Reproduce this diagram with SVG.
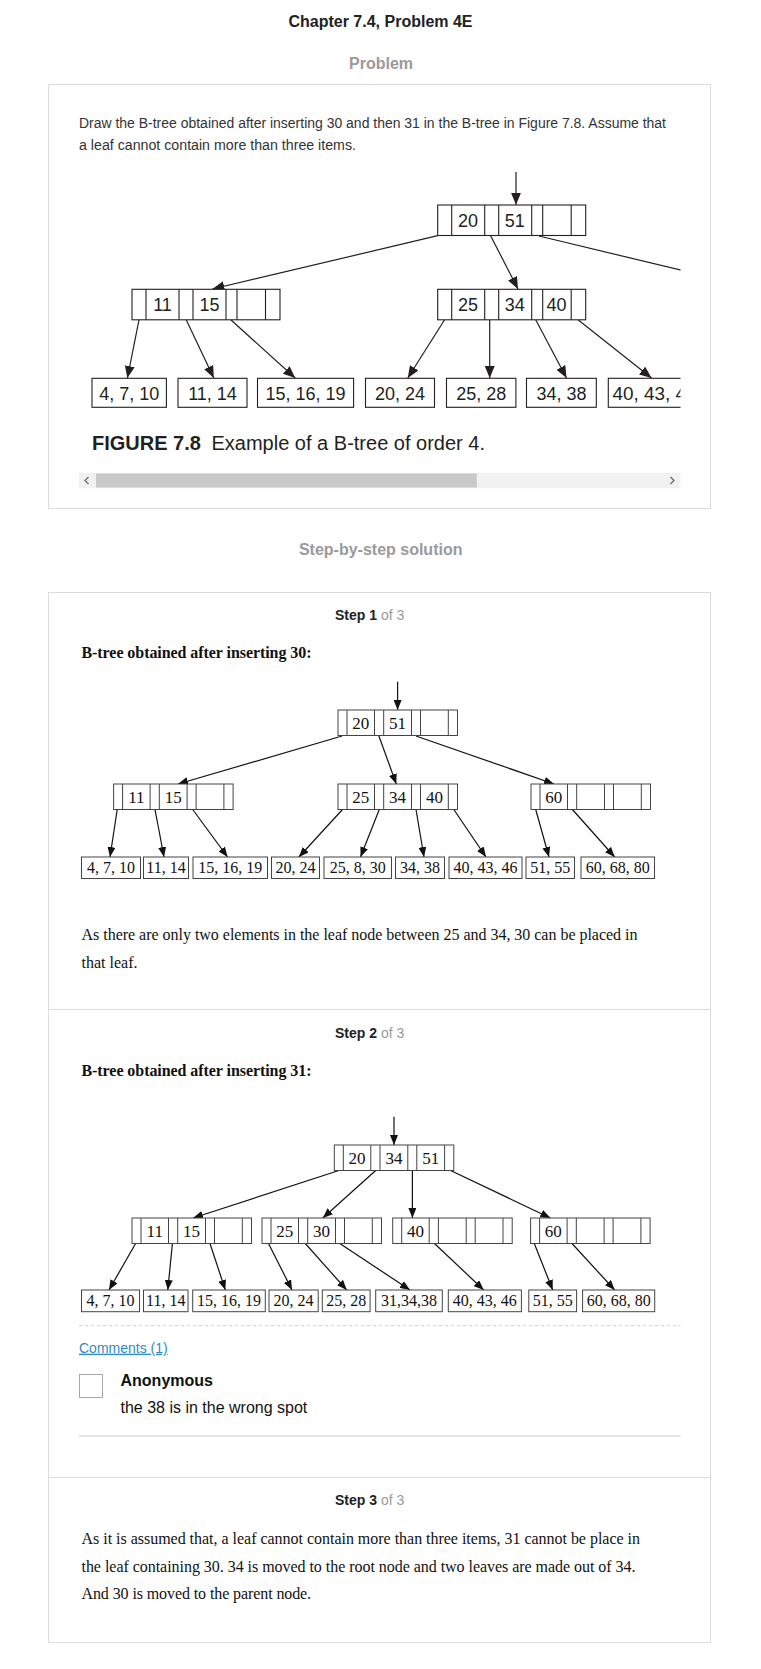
<svg xmlns="http://www.w3.org/2000/svg" xmlns:xlink="http://www.w3.org/1999/xlink" width="761" height="1669" viewBox="0 0 761 1669">
<style>
.sans{font-family:"Liberation Sans",Arial,sans-serif}
.serif{font-family:"Liberation Serif","Times New Roman",serif}
.h1{font-size:16px;font-weight:bold;fill:#222}
.h2{font-size:16px;font-weight:bold;fill:#9a9a9a}
.body{font-size:14px;fill:#333}
.step{font-size:14px;font-weight:bold;fill:#222}
.of{font-weight:normal;fill:#9a9a9a}
.sub{font-size:16px;font-weight:bold;fill:#111}
.txt{font-size:16px;fill:#111}
.fk{font-size:18px;fill:#231f20;text-anchor:middle}
.sk{font-size:17px;fill:#111;text-anchor:middle}
.lk{font-size:16px;fill:#111;text-anchor:middle}
.box{fill:#fff;stroke:#dcdcdc;stroke-width:1}
.fn{fill:#fff;stroke:#231f20;stroke-width:1.1}
.sn{fill:#fff;stroke:#444;stroke-width:1}
.fe{stroke:#231f20;stroke-width:1.2;fill:none}
.se{stroke:#111;stroke-width:1.2;fill:none}
</style>
<defs>
<marker id="fa" viewBox="0 0 12 10" refX="12" refY="5" markerWidth="12" markerHeight="10" markerUnits="userSpaceOnUse" orient="auto"><path d="M0,0 L12,5 L0,10 z" fill="#231f20"/></marker>
<marker id="sa" viewBox="0 0 10 8" refX="10" refY="4" markerWidth="10" markerHeight="8" markerUnits="userSpaceOnUse" orient="auto"><path d="M0,0 L10,4 L0,8 z" fill="#111"/></marker>
<g id="fnode"><rect class="fn" x="0" y="0" width="148" height="30.5"/><path class="fn" d="M14,0V30.5M47,0V30.5M61,0V30.5M94,0V30.5M105,0V30.5M133.5,0V30.5"/></g>
<g id="snode"><rect class="sn" x="0" y="0" width="119.5" height="25.5"/><path class="sn" d="M9,0V25.5M36.5,0V25.5M45.7,0V25.5M73.5,0V25.5M82.5,0V25.5M110.3,0V25.5"/></g>
<clipPath id="figclip"><rect x="79" y="150" width="601.5" height="320"/></clipPath>
</defs>
<rect x="0" y="0" width="761" height="1669" fill="#fff"/>

<text class="sans h1" x="380.5" y="27" text-anchor="middle">Chapter 7.4, Problem 4E</text>
<text class="sans h2" x="381" y="68.5" text-anchor="middle">Problem</text>
<rect class="box" x="48.5" y="84.5" width="662" height="424"/>
<text class="sans body" x="79" y="128" textLength="587" lengthAdjust="spacingAndGlyphs">Draw the B-tree obtained after inserting 30 and then 31 in the B-tree in Figure 7.8. Assume that</text>
<text class="sans body" x="79" y="150" textLength="277" lengthAdjust="spacingAndGlyphs">a leaf cannot contain more than three items.</text>

<g id="figure-7-8" clip-path="url(#figclip)">
<g id="fig-connectors">
<line class="fe" x1="516" y1="172" x2="516" y2="204.8" marker-end="url(#fa)"/>
<line class="fe" x1="437.7" y1="235.7" x2="212.4" y2="289" marker-end="url(#fa)"/>
<line class="fe" x1="490.6" y1="235.7" x2="518" y2="289" marker-end="url(#fa)"/>
<line class="fe" x1="538.9" y1="236" x2="720" y2="279.5"/>
<line class="fe" x1="139" y1="319.8" x2="127.4" y2="378" marker-end="url(#fa)"/>
<line class="fe" x1="186.2" y1="319.8" x2="213.8" y2="378" marker-end="url(#fa)"/>
<line class="fe" x1="230.8" y1="319.8" x2="295.2" y2="378" marker-end="url(#fa)"/>
<line class="fe" x1="444.6" y1="319.8" x2="407.8" y2="378" marker-end="url(#fa)"/>
<line class="fe" x1="489.7" y1="319.8" x2="489.7" y2="378" marker-end="url(#fa)"/>
<line class="fe" x1="535.7" y1="319.8" x2="566.5" y2="378" marker-end="url(#fa)"/>
<line class="fe" x1="578" y1="319.8" x2="651.5" y2="378" marker-end="url(#fa)"/>
</g>
<g id="fig-root"><use xlink:href="#fnode" x="437.7" y="205"/><text class="sans fk" x="468" y="226.5">20</text><text class="sans fk" x="514.7" y="226.5">51</text></g>
<g id="fig-n1"><use xlink:href="#fnode" x="132" y="289.3"/><text class="sans fk" x="162.5" y="310.8">11</text><text class="sans fk" x="209.5" y="310.8">15</text></g>
<g id="fig-n2"><use xlink:href="#fnode" x="437.7" y="289.3"/><text class="sans fk" x="468" y="310.8">25</text><text class="sans fk" x="514.7" y="310.8">34</text><text class="sans fk" x="556.5" y="310.8">40</text></g>
<g id="fig-l1"><rect class="fn" x="92" y="378.3" width="74.4" height="29"/><text class="sans fk" x="129.2" y="399.5">4, 7, 10</text></g>
<g id="fig-l2"><rect class="fn" x="178" y="378.3" width="69" height="29"/><text class="sans fk" x="212.5" y="399.5">11, 14</text></g>
<g id="fig-l3"><rect class="fn" x="257.5" y="378.3" width="96.1" height="29"/><text class="sans fk" x="305.5" y="399.5">15, 16, 19</text></g>
<g id="fig-l4"><rect class="fn" x="365.5" y="378.3" width="69" height="29"/><text class="sans fk" x="400" y="399.5">20, 24</text></g>
<g id="fig-l5"><rect class="fn" x="446.5" y="378.3" width="69.4" height="29"/><text class="sans fk" x="481.2" y="399.5">25, 28</text></g>
<g id="fig-l6"><rect class="fn" x="526.5" y="378.3" width="69.8" height="29"/><text class="sans fk" x="561.4" y="399.5">34, 38</text></g>
<g id="fig-l7"><rect class="fn" x="608.3" y="378.3" width="96" height="29"/><text class="sans" x="612.5" y="399.5" font-size="18" fill="#231f20" textLength="84" lengthAdjust="spacingAndGlyphs">40, 43, 46</text></g>
<text class="sans" x="92" y="450" font-size="20" font-weight="bold" fill="#231f20">FIGURE 7.8</text>
<text class="sans" x="211.5" y="450" font-size="20" fill="#231f20">Example of a B-tree of order 4.</text>
</g>
<g id="scrollbar">
<rect x="79" y="472.7" width="601.5" height="15.6" fill="#f1f1f1"/>
<rect x="96" y="473.5" width="380.8" height="14" fill="#c9c9c9"/>
<path d="M88.5,477 L85,480.5 L88.5,484" fill="none" stroke="#777" stroke-width="1.5"/>
<path d="M670.5,477 L674,480.5 L670.5,484" fill="none" stroke="#777" stroke-width="1.5"/>
</g>

<text class="sans h2" x="380.7" y="555" text-anchor="middle">Step-by-step solution</text>
<rect class="box" x="48.5" y="592.5" width="662" height="1050"/>
<line x1="48.5" y1="1009.5" x2="710.5" y2="1009.5" stroke="#dcdcdc"/>
<line x1="48.5" y1="1477.5" x2="710.5" y2="1477.5" stroke="#dcdcdc"/>

<text class="sans step" x="335" y="620">Step 1<tspan class="of"> of 3</tspan></text>
<text class="serif sub" x="81.5" y="658" textLength="230" lengthAdjust="spacing">B-tree obtained after inserting 30:</text>

<g id="step1-connectors">
<line class="se" x1="397.6" y1="681.7" x2="397.6" y2="710" marker-end="url(#sa)"/>
<line class="se" x1="342" y1="736" x2="178" y2="784" marker-end="url(#sa)"/>
<line class="se" x1="378.9" y1="736" x2="396.3" y2="784" marker-end="url(#sa)"/>
<line class="se" x1="416" y1="736" x2="554" y2="784" marker-end="url(#sa)"/>
<line class="se" x1="117.2" y1="809.5" x2="110" y2="857" marker-end="url(#sa)"/>
<line class="se" x1="155" y1="809.5" x2="164" y2="857" marker-end="url(#sa)"/>
<line class="se" x1="192.7" y1="809.5" x2="227.6" y2="857" marker-end="url(#sa)"/>
<line class="se" x1="342.5" y1="809.5" x2="298.9" y2="857" marker-end="url(#sa)"/>
<line class="se" x1="379.3" y1="809.5" x2="360.5" y2="857" marker-end="url(#sa)"/>
<line class="se" x1="416" y1="809.5" x2="424" y2="857" marker-end="url(#sa)"/>
<line class="se" x1="453.8" y1="809.5" x2="486" y2="857" marker-end="url(#sa)"/>
<line class="se" x1="535.7" y1="809.5" x2="549" y2="857" marker-end="url(#sa)"/>
<line class="se" x1="572.4" y1="809.5" x2="614.7" y2="857" marker-end="url(#sa)"/>
</g>
<g id="s1-root"><use xlink:href="#snode" x="338" y="710"/><text class="serif sk" x="360.75" y="728.5">20</text><text class="serif sk" x="397.6" y="728.5">51</text></g>
<g id="s1-n1"><use xlink:href="#snode" x="113.6" y="784"/><text class="serif sk" x="136.35" y="802.5">11</text><text class="serif sk" x="173.2" y="802.5">15</text></g>
<g id="s1-n2"><use xlink:href="#snode" x="338" y="784"/><text class="serif sk" x="360.75" y="802.5">25</text><text class="serif sk" x="397.6" y="802.5">34</text><text class="serif sk" x="434.5" y="802.5">40</text></g>
<g id="s1-n3"><use xlink:href="#snode" x="531" y="784"/><text class="serif sk" x="553.75" y="802.5">60</text></g>
<g id="s1-l1"><rect class="sn" x="81.5" y="857" width="59" height="21.5"/><text class="serif lk" x="111" y="873">4, 7, 10</text></g>
<g id="s1-l2"><rect class="sn" x="143.5" y="857" width="45" height="21.5"/><text class="serif lk" x="166" y="873">11, 14</text></g>
<g id="s1-l3"><rect class="sn" x="193" y="857" width="74.5" height="21.5"/><text class="serif lk" x="230.25" y="873">15, 16, 19</text></g>
<g id="s1-l4"><rect class="sn" x="271.5" y="857" width="48" height="21.5"/><text class="serif lk" x="295.5" y="873">20, 24</text></g>
<g id="s1-l5"><rect class="sn" x="324" y="857" width="67.5" height="21.5"/><text class="serif lk" x="357.75" y="873">25, 8, 30</text></g>
<g id="s1-l6"><rect class="sn" x="395.5" y="857" width="49" height="21.5"/><text class="serif lk" x="420" y="873">34, 38</text></g>
<g id="s1-l7"><rect class="sn" x="449" y="857" width="73" height="21.5"/><text class="serif lk" x="485.5" y="873">40, 43, 46</text></g>
<g id="s1-l8"><rect class="sn" x="526" y="857" width="48.5" height="21.5"/><text class="serif lk" x="550.25" y="873">51, 55</text></g>
<g id="s1-l9"><rect class="sn" x="581" y="857" width="73.5" height="21.5"/><text class="serif lk" x="617.75" y="873">60, 68, 80</text></g>

<text class="serif txt" x="81.5" y="940" textLength="556" lengthAdjust="spacing">As there are only two elements in the leaf node between 25 and 34, 30 can be placed in</text>
<text class="serif txt" x="81.5" y="967.5">that leaf.</text>

<text class="sans step" x="335" y="1038">Step 2<tspan class="of"> of 3</tspan></text>
<text class="serif sub" x="81.5" y="1076" textLength="230" lengthAdjust="spacing">B-tree obtained after inserting 31:</text>

<g id="step2-connectors">
<line class="se" x1="394" y1="1116.7" x2="394" y2="1145" marker-end="url(#sa)"/>
<line class="se" x1="338.9" y1="1170.5" x2="193.1" y2="1218" marker-end="url(#sa)"/>
<line class="se" x1="375.7" y1="1170.5" x2="322.8" y2="1218" marker-end="url(#sa)"/>
<line class="se" x1="412.4" y1="1170.5" x2="412.4" y2="1218" marker-end="url(#sa)"/>
<line class="se" x1="450.6" y1="1170.5" x2="550.4" y2="1218" marker-end="url(#sa)"/>
<line class="se" x1="135.6" y1="1243.5" x2="109" y2="1290" marker-end="url(#sa)"/>
<line class="se" x1="172.4" y1="1243.5" x2="167.8" y2="1290" marker-end="url(#sa)"/>
<line class="se" x1="210" y1="1243.5" x2="225.3" y2="1290" marker-end="url(#sa)"/>
<line class="se" x1="268.5" y1="1243.5" x2="292" y2="1290" marker-end="url(#sa)"/>
<line class="se" x1="305.3" y1="1243.5" x2="346.7" y2="1290" marker-end="url(#sa)"/>
<line class="se" x1="339.8" y1="1243.5" x2="410" y2="1290" marker-end="url(#sa)"/>
<line class="se" x1="434.5" y1="1243.5" x2="483.7" y2="1290" marker-end="url(#sa)"/>
<line class="se" x1="534.3" y1="1243.5" x2="552.7" y2="1290" marker-end="url(#sa)"/>
<line class="se" x1="572" y1="1243.5" x2="614.7" y2="1290" marker-end="url(#sa)"/>
</g>
<g id="s2-root"><use xlink:href="#snode" x="334.3" y="1145"/><text class="serif sk" x="357.05" y="1163.5">20</text><text class="serif sk" x="393.9" y="1163.5">34</text><text class="serif sk" x="430.7" y="1163.5">51</text></g>
<g id="s2-n1"><use xlink:href="#snode" x="132" y="1218"/><text class="serif sk" x="154.75" y="1236.5">11</text><text class="serif sk" x="191.6" y="1236.5">15</text></g>
<g id="s2-n2"><use xlink:href="#snode" x="262" y="1218"/><text class="serif sk" x="284.75" y="1236.5">25</text><text class="serif sk" x="321.6" y="1236.5">30</text></g>
<g id="s2-n3"><use xlink:href="#snode" x="392.7" y="1218"/><text class="serif sk" x="415.45" y="1236.5">40</text></g>
<g id="s2-n4"><use xlink:href="#snode" x="530.6" y="1218"/><text class="serif sk" x="553.35" y="1236.5">60</text></g>
<g id="s2-l1"><rect class="sn" x="81.5" y="1290" width="58" height="21.7"/><text class="serif lk" x="110.5" y="1306">4, 7, 10</text></g>
<g id="s2-l2"><rect class="sn" x="143.5" y="1290" width="44.5" height="21.7"/><text class="serif lk" x="165.75" y="1306">11, 14</text></g>
<g id="s2-l3"><rect class="sn" x="192.7" y="1290" width="72.6" height="21.7"/><text class="serif lk" x="229" y="1306">15, 16, 19</text></g>
<g id="s2-l4"><rect class="sn" x="269" y="1290" width="49.2" height="21.7"/><text class="serif lk" x="293.6" y="1306">20, 24</text></g>
<g id="s2-l5"><rect class="sn" x="322.3" y="1290" width="47.8" height="21.7"/><text class="serif lk" x="346.2" y="1306">25, 28</text></g>
<g id="s2-l6"><rect class="sn" x="375.7" y="1290" width="66.6" height="21.7"/><text class="serif lk" x="409" y="1306">31,34,38</text></g>
<g id="s2-l7"><rect class="sn" x="448.3" y="1290" width="73.1" height="21.7"/><text class="serif lk" x="484.85" y="1306">40, 43, 46</text></g>
<g id="s2-l8"><rect class="sn" x="528.8" y="1290" width="47.8" height="21.7"/><text class="serif lk" x="552.7" y="1306">51, 55</text></g>
<g id="s2-l9"><rect class="sn" x="582.6" y="1290" width="72.1" height="21.7"/><text class="serif lk" x="618.65" y="1306">60, 68, 80</text></g>

<line x1="79" y1="1325.7" x2="680.5" y2="1325.7" stroke="#cfcfcf" stroke-dasharray="3,3"/>
<text class="sans" x="79" y="1352.7" font-size="14" fill="#2f8cc6" text-decoration="underline">Comments (1)</text>
<rect x="79.5" y="1374.5" width="23" height="23" fill="#fff" stroke="#a8a8a8"/>
<text class="sans" x="120.5" y="1386" font-size="16" font-weight="bold" fill="#111">Anonymous</text>
<text class="sans" x="120.5" y="1413" font-size="16" fill="#111">the 38 is in the wrong spot</text>
<line x1="79" y1="1436" x2="680.5" y2="1436" stroke="#cccccc"/>

<text class="sans step" x="335" y="1505">Step 3<tspan class="of"> of 3</tspan></text>
<text class="serif txt" x="81.5" y="1544" textLength="558.5" lengthAdjust="spacing">As it is assumed that, a leaf cannot contain more than three items, 31 cannot be place in</text>
<text class="serif txt" x="81.5" y="1571.5" textLength="554" lengthAdjust="spacing">the leaf containing 30. 34 is moved to the root node and two leaves are made out of 34.</text>
<text class="serif txt" x="81.5" y="1599" textLength="229.6" lengthAdjust="spacing">And 30 is moved to the parent node.</text>
</svg>
